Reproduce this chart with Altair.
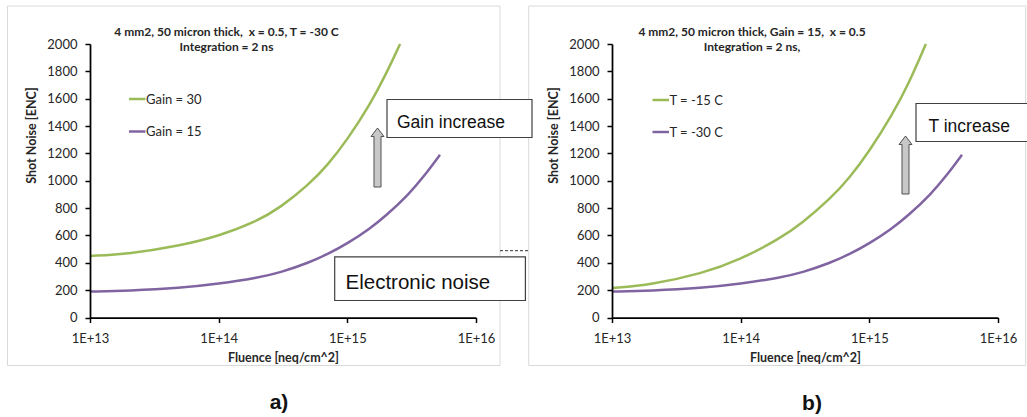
import altair as alt
import pandas as pd

# ---------------- data ----------------
SERIES = ["Gain = 30", "Gain = 15", "T = -15 C", "T = -30 C"]
COLORS = ["#9bbb59", "#8064a2", "#9bbb59", "#8064a2"]

# panel a) Gain = 30, T = -30 C
fluence_g30 = [1e13, 2e13, 5e13, 1e14, 2e14, 3e14, 5e14, 7e14, 1e15, 1.5e15, 2e15, 2.57e15]
noise_g30 = [450, 465, 525, 595, 705, 803, 970, 1112, 1300, 1557, 1780, 2000]

# Gain = 15, T = -30 C (same curve in both panels)
fluence_g15 = [1e13, 2e13, 5e13, 1e14, 2e14, 3e14, 5e14, 7e14, 1e15, 1.5e15, 2e15, 3e15, 4e15, 5.25e15]
noise_g15 = [190, 196, 216, 247, 290, 328, 400, 462, 540, 650, 745, 900, 1040, 1190]

# panel b) T = -15 C, Gain = 15
fluence_t15 = [1e13, 2e13, 5e13, 1e14, 2e14, 3e14, 5e14, 7e14, 1e15, 1.5e15, 2e15, 2.75e15]
noise_t15 = [215, 240, 320, 425, 575, 690, 870, 1020, 1215, 1480, 1700, 2000]

X_TICKS = [1e13, 1e14, 1e15, 1e16]
Y_TICKS = list(range(0, 2001, 200))

TITLE_A = ["4 mm2, 50 micron thick,\u00a0 x = 0.5, T = -30 C", "Integration = 2 ns"]
TITLE_B = ["4 mm2, 50 micron thick, Gain = 15,\u00a0 x = 0.5", "Integration = 2 ns,"]
X_TITLE = "Fluence [neq/cm^2]"
Y_TITLE = "Shot Noise [ENC]"

df_a = pd.DataFrame({
    "series": [SERIES[0]] * len(fluence_g30) + [SERIES[1]] * len(fluence_g15),
    "fluence": fluence_g30 + fluence_g15,
    "noise": noise_g30 + noise_g15,
})
df_b = pd.DataFrame({
    "series": [SERIES[2]] * len(fluence_t15) + [SERIES[3]] * len(fluence_g15),
    "fluence": fluence_t15 + fluence_g15,
    "noise": noise_t15 + noise_g15,
})

FONT = "Lato"
BOX_FONT = "Liberation Sans"
TXT = "#262626"
one = pd.DataFrame({"k": [0]})


def rect(x1, x2, y1, y2, stroke, fill="white", sw=1.0, fill_opacity=1.0):
    return alt.Chart(one).mark_rect(fill=fill, fillOpacity=fill_opacity, stroke=stroke, strokeWidth=sw).encode(
        x=alt.value(x1), x2=alt.value(x2), y=alt.value(y1), y2=alt.value(y2))


def label(txt, x, y, size, weight="normal", align="left", font=FONT, baseline="middle", color=TXT):
    return alt.Chart(one).mark_text(align=align, baseline=baseline, font=font, fontSize=size,
                                    fontWeight=weight, color=color).encode(
        x=alt.value(x), y=alt.value(y), text=alt.value(txt))


def seg(x1, x2, y, color, sw=2.5, dash=None):
    kw = {"strokeDash": dash} if dash else {}
    return alt.Chart(one).mark_rule(color=color, strokeWidth=sw, **kw).encode(
        x=alt.value(x1), x2=alt.value(x2), y=alt.value(y))


def arrow(cx, top, bottom):
    h = bottom - top
    r = h / 2.0
    sh = 3.5 / r
    hw = 6.5 / r
    hb = -1 + 8.5 / r
    path = (f"M {-sh:.3f} 1 L {sh:.3f} 1 L {sh:.3f} {hb:.3f} L {hw:.3f} {hb:.3f} "
            f"L 0 -1 L {-hw:.3f} {hb:.3f} L {-sh:.3f} {hb:.3f} Z")
    return alt.Chart(one).mark_point(shape=path, size=h * h, filled=True, fill="#c8c8c8",
                                     stroke="#505050", strokeWidth=1, opacity=1).encode(
        x=alt.value(cx), y=alt.value(top + r))


Y0, Y1 = 317.5, 44


def curves(df, x0, x1):
    xaxis = alt.Axis(orient="bottom", offset=-(417 - Y0), values=X_TICKS, zindex=1,
                     labelExpr="'1E+' + round(log(datum.value) / LN10)",
                     title=X_TITLE, titleY=43.5, titleBaseline="alphabetic",
                     titleFont=FONT, titleFontSize=12.5, titleFontWeight="bold", titleColor=TXT,
                     labelFont=FONT, labelFontSize=13, labelColor=TXT, labelBaseline="alphabetic",
                     labelPadding=20, labelFlush=False, grid=False,
                     domainColor="black", domainWidth=1.75, tickColor="black", tickSize=5, tickWidth=1.5)
    yaxis = alt.Axis(orient="left", offset=-x0, values=Y_TICKS, format="d", title=Y_TITLE, zindex=1,
                     titleX=-55, titleY=135, titleAngle=270, titleBaseline="alphabetic", titleAlign="center",
                     titleFont=FONT, titleFontSize=12.5, titleFontWeight="bold", titleColor=TXT,
                     labelFont=FONT, labelFontSize=13, labelColor=TXT, labelPadding=8, grid=False,
                     domainColor="black", domainWidth=1.75, tickColor="black", tickSize=5, tickWidth=1.5)
    return alt.Chart(df).mark_line(interpolate="basis", strokeWidth=2.5).encode(
        x=alt.X("fluence:Q", scale=alt.Scale(type="log", domain=[1e13, 1e16], range=[x0, x1], nice=False),
                axis=xaxis),
        y=alt.Y("noise:Q", scale=alt.Scale(domain=[0, 2000], range=[Y0, Y1], nice=False, zero=False),
                axis=yaxis),
        color=alt.Color("series:N", scale=alt.Scale(domain=SERIES, range=COLORS), legend=None),
    )


FRAME = "#d9d9d9"
BOXLINE = "#404040"

layers = [
    rect(7.5, 500, 6, 365.5, FRAME, fill_opacity=0),
    rect(528.7, 1025.7, 6, 365.5, FRAME, fill_opacity=0),
    seg(500, 528.7, 250.7, "#333333", sw=1, dash=[3, 2]),
    curves(df_a, 90, 476),
    curves(df_b, 612, 998),
    # titles
    label(TITLE_A[0], 226.5, 32, 12, "bold", "center"),
    label(TITLE_A[1], 226.5, 46.5, 12, "bold", "center"),
    label(TITLE_B[0], 752, 32, 12, "bold", "center"),
    label(TITLE_B[1], 752, 46.5, 12, "bold", "center"),
    # legends
    seg(129, 145.5, 99, COLORS[0]),
    label(SERIES[0], 146, 99.5, 13),
    seg(129, 145.5, 131.5, COLORS[1]),
    label(SERIES[1], 146, 132, 13),
    seg(652.5, 669, 100, COLORS[2]),
    label(SERIES[2], 669.5, 100.5, 13),
    seg(652.5, 669, 132, COLORS[3]),
    label(SERIES[3], 669.5, 132.5, 13),
    # annotation boxes
    rect(387, 532, 99.5, 137.5, BOXLINE, sw=1.2),
    label("Gain increase", 397, 127.5, 17.5, font=BOX_FONT, baseline="alphabetic", color="#111111"),
    rect(334.7, 525.4, 256.8, 300.5, BOXLINE, sw=1.2),
    label("Electronic noise", 345.5, 288.5, 20.5, font=BOX_FONT, baseline="alphabetic", color="#111111"),
    rect(916, 1032, 103.5, 141.5, BOXLINE, sw=1.2),
    label("T increase", 928.5, 131.5, 17.5, font=BOX_FONT, baseline="alphabetic", color="#111111"),
    arrow(377.5, 128, 187),
    arrow(905.5, 136, 194),
    # panel labels
    label("a)", 279, 403, 21, "bold", "center", font=BOX_FONT, color="#111111"),
    label("b)", 812, 404, 21, "bold", "center", font=BOX_FONT, color="#111111"),
]

chart = alt.layer(*layers).properties(
    width=1027, height=417,
    autosize=alt.AutoSizeParams(type="none"),
    padding=0,
    background="white",
).resolve_scale(
    x="independent", y="independent"
).resolve_axis(
    x="independent", y="independent"
).configure_view(stroke=None)

chart.save("out.html", embed_options={"renderer": "svg", "actions": False})
